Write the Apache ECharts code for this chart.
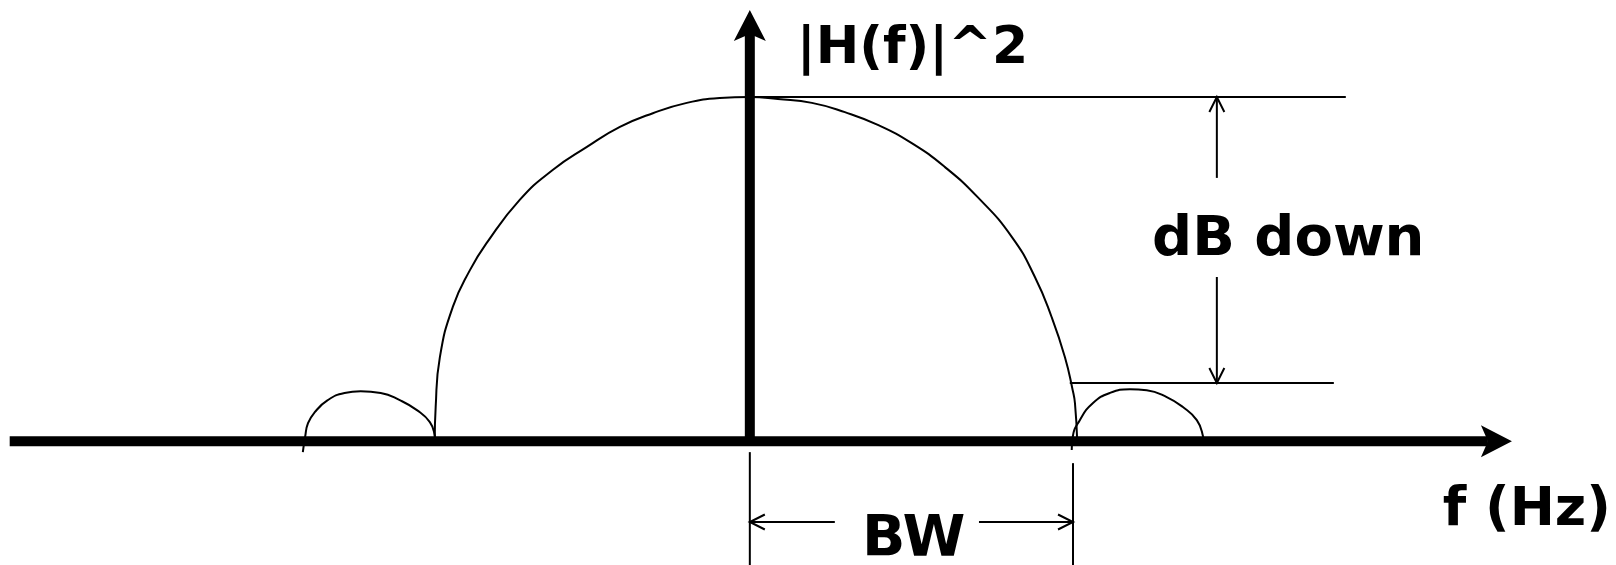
<!DOCTYPE html>
<html>
<head>
<meta charset="utf-8">
<title>|H(f)|^2 bandwidth sketch</title>
<script src="https://cdn.jsdelivr.net/npm/echarts@6.0.0/dist/echarts.min.js"></script>
<style>
  html, body { margin: 0; padding: 0; background: #fff; }
  #chart { width: 1616px; height: 565px; }
</style>
</head>
<body>
<div id="chart"></div>
<script>
// Diagram units: f with the band edge at 100, power normalised to the peak (= 1).

const mainLobe = [
  [-97.5, 0], [-97.2, 0.099], [-95.9, 0.244], [-91.9, 0.390], [-86.6, 0.497],
  [-81.4, 0.576], [-71.2, 0.701], [-61.0, 0.788], [-50.4, 0.855], [-40.2, 0.913],
  [-30.0, 0.953], [-19.5, 0.983], [-9.3, 0.997], [0, 1], [8.7, 0.994],
  [19.2, 0.983], [29.4, 0.956], [39.6, 0.919], [50.1, 0.866], [60.3, 0.797],
  [70.5, 0.709], [81.1, 0.593], [88.2, 0.477], [93.4, 0.360], [97.5, 0.244],
  [99.9, 0.148], [100.6, 0.110], [101.3, 0]
];

const leftSideLobe = [
  [-138.3, -0.032], [-137.6, 0.012], [-136.7, 0.052], [-134.6, 0.084], [-130.6, 0.119],
  [-125.4, 0.140], [-120.4, 0.145], [-114.2, 0.140], [-108.3, 0.119], [-103.0, 0.090],
  [-99.0, 0.055], [-97.5, 0.017], [-97.3, 0]
];

const rightSideLobe = [
  [99.6, -0.026], [99.9, 0.012], [102.1, 0.061], [106.1, 0.110], [111.4, 0.140],
  [117.6, 0.151], [122.8, 0.148], [129.0, 0.128], [134.0, 0.099], [138.3, 0.061],
  [140.2, 0.015], [140.4, 0]
];

// axes with filled heads: [f0, y0, f1, y1]
const axisArrows = [
  [-229.0, 0, 235.8, 0],
  [0, 0, 0, 1.253]
];

// thin guides: [f0, y0, f1, y1, head at end?]
const guides = [
  [0, 1, 184.4, 1, 0],            // peak level
  [99.0, 0.169, 180.7, 0.169, 0], // dB-down level
  [144.5, 0.765, 144.5, 1, 1],
  [144.5, 0.477, 144.5, 0.169, 1],
  [0, -0.032, 0, -0.36, 0],       // BW extension lines
  [100, -0.064, 100, -0.36, 0],
  [26.3, -0.235, 0, -0.235, 1],
  [70.9, -0.235, 100, -0.235, 1]
];

const labelTexts   = ['|H(f)|^2', 'dB down', 'f (Hz)', 'BW'];
const labelAnchors = [[50.3, 1.138], [166.6, 0.582], [240.4, -0.202], [50.7, -0.290]];

const LABEL_SIZES = [52, 56, 54, 57];
const INK = '#000';

const chart = echarts.init(document.getElementById('chart'), null, { renderer: 'canvas' });

function axisArrow(params, api) {
  const a = api.coord([api.value(0), api.value(1)]);
  const b = api.coord([api.value(2), api.value(3)]);
  const len = Math.hypot(b[0] - a[0], b[1] - a[1]);
  const dx = (b[0] - a[0]) / len, dy = (b[1] - a[1]) / len;
  const nx = -dy, ny = dx;
  const L = 31, W = 16, N = 7;
  const back  = [b[0] - dx * L, b[1] - dy * L];
  const notch = [b[0] - dx * (L - N), b[1] - dy * (L - N)];
  return {
    type: 'group',
    children: [
      { type: 'line', shape: { x1: a[0], y1: a[1], x2: notch[0], y2: notch[1] },
        style: { stroke: INK, lineWidth: 10 } },
      { type: 'polygon',
        shape: { points: [b, [back[0] + nx * W, back[1] + ny * W], notch, [back[0] - nx * W, back[1] - ny * W]] },
        style: { fill: INK } }
    ]
  };
}

function guide(params, api) {
  const a = api.coord([api.value(0), api.value(1)]);
  const b = api.coord([api.value(2), api.value(3)]);
  const children = [
    { type: 'line', shape: { x1: a[0], y1: a[1], x2: b[0], y2: b[1] },
      style: { stroke: INK, lineWidth: 2 } }
  ];
  if (api.value(4)) {
    const len = Math.hypot(b[0] - a[0], b[1] - a[1]);
    const dx = (b[0] - a[0]) / len, dy = (b[1] - a[1]) / len;
    const nx = -dy, ny = dx;
    const L = 15, W = 7.5;
    children.push({
      type: 'polyline',
      shape: { points: [
        [b[0] - dx * L + nx * W, b[1] - dy * L + ny * W],
        b,
        [b[0] - dx * L - nx * W, b[1] - dy * L - ny * W]
      ] },
      style: { stroke: INK, lineWidth: 2, fill: null }
    });
  }
  return { type: 'group', children };
}

function label(params, api) {
  const p = api.coord([api.value(0), api.value(1)]);
  return {
    type: 'text',
    x: p[0],
    y: p[1],
    style: {
      text: labelTexts[params.dataIndex],
      fill: INK,
      fontFamily: 'DejaVu Sans',
      fontWeight: 'bold',
      fontSize: LABEL_SIZES[params.dataIndex],
      align: 'center',
      verticalAlign: 'middle'
    }
  };
}

const curve = data => ({
  type: 'line',
  data,
  smooth: 0.5,
  showSymbol: false,
  silent: true,
  lineStyle: { color: INK, width: 2 },
  z: 2
});

chart.setOption({
  backgroundColor: '#fff',
  animation: false,
  grid: { left: 0, right: 0, top: 0, bottom: 0, containLabel: false },
  xAxis: { type: 'value', min: -232, max: 268, show: false },
  yAxis: { type: 'value', min: -0.36, max: 1.282, show: false },
  series: [
    curve(mainLobe),
    curve(leftSideLobe),
    curve(rightSideLobe),
    { type: 'custom', renderItem: guide, data: guides, clip: false, silent: true, z: 3 },
    { type: 'custom', renderItem: axisArrow, data: axisArrows, clip: false, silent: true, z: 4 },
    { type: 'custom', renderItem: label, data: labelAnchors, clip: false, silent: true, z: 5 }
  ]
});
</script>
</body>
</html>
